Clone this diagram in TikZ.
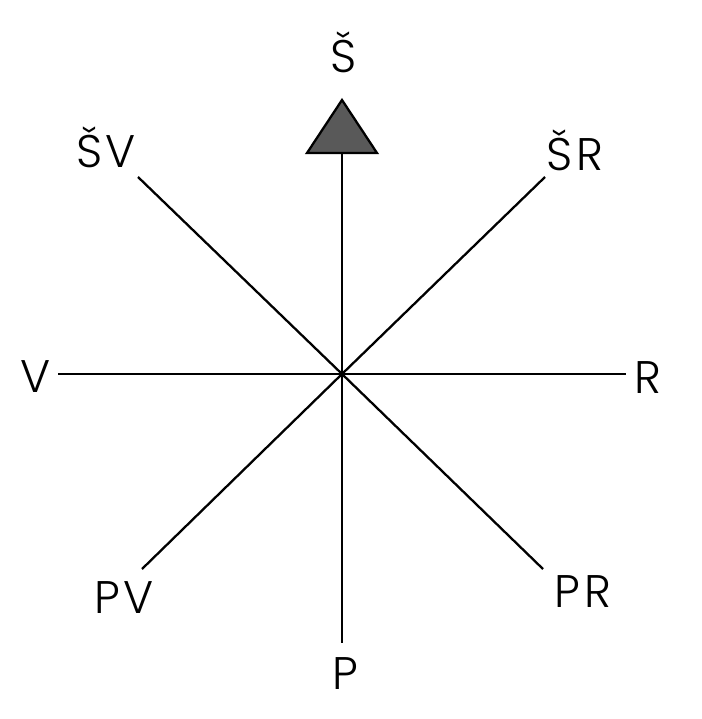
\documentclass[tikz,border=0pt]{standalone}
\usepackage{fontspec}
\setmainfont{Poppins}[UprightFont=* Light, LetterSpace=8]
\usetikzlibrary{arrows.meta, calc, positioning}

\begin{document}
\begin{tikzpicture}[
    x=0.02cm, y=-0.02cm,
    ray/.style={line width=1.3pt, black}, % Style for the compass rays
    dir/.style={anchor=base, font=\fontsize{26}{30}\selectfont, inner sep=0pt} % Direction labels
]
    \useasboundingbox (0,0) rectangle (702,719);

    % --- Definitions ---
    \coordinate (center) at (342,374);
    \coordinate (n_end) at (342,153); % Base of the north arrow
    \coordinate (s_end) at (342,643);
    \coordinate (w_end) at (58,374);
    \coordinate (e_end) at (626,374);
    \coordinate (nw_end) at (138,177);
    \coordinate (ne_end) at (545,177);
    \coordinate (sw_end) at (142,569);
    \coordinate (se_end) at (543,569);

    % --- Labels ---
    \node[dir] (n) at (344,73) {Š};
    \node[dir] (nw) at (106,168) {ŠV};
    \node[dir] (ne) at (575,171) {ŠR};
    \node[dir] (w) at (36,392) {V};
    \node[dir] (e) at (648,393) {R};
    \node[dir] (sw) at (124,613) {PV};
    \node[dir] (se) at (583,607) {PR};
    \node[dir] (s) at (345,689) {P};

    % --- Drawing ---
    \draw[ray] (center) -- (n_end);
    \draw[ray] (center) -- (s_end);
    \draw[ray] (center) -- (w_end);
    \draw[ray] (center) -- (e_end);
    \draw[ray] (center) -- (nw_end);
    \draw[ray] (center) -- (ne_end);
    \draw[ray] (center) -- (sw_end);
    \draw[ray] (center) -- (se_end);

    % North arrow head
    \draw[line width=1.3pt, fill=black!65, line join=miter]
        (307,153) -- (342,100) -- (377,153) -- cycle;

\end{tikzpicture}
\end{document}
